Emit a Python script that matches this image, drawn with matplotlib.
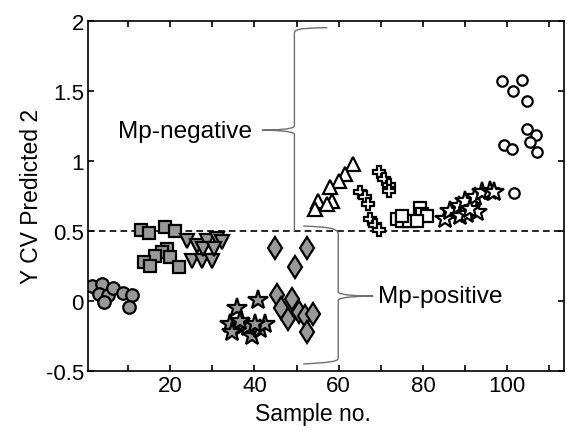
import numpy as np
import matplotlib
matplotlib.use("Agg")
import matplotlib.pyplot as plt
from matplotlib.path import Path
from matplotlib.patches import PathPatch

plt.rcParams['font.family'] = ['Liberation Sans', 'DejaVu Sans']

# --- data (sample no., Y CV predicted) ---
circ_g_x = [1.4, 3.9, 3.1, 5.3, 4.2, 6.5, 8.7, 11.0, 10.3]
circ_g_y = [0.105, 0.121, 0.05, 0.043, -0.005, 0.09, 0.055, 0.045, -0.045]

sq_g_x = [13.1, 15.0, 18.8, 21.2, 19.2, 18.0, 16.4, 20.0, 13.7, 15.2, 22.0]
sq_g_y = [0.507, 0.484, 0.531, 0.502, 0.371, 0.348, 0.324, 0.312, 0.276, 0.252, 0.245]

tri_d_x = [24.0, 26.3, 28.7, 31.1, 32.3, 25.2, 27.5, 29.9, 27.9, 30.3]
tri_d_y = [0.431, 0.395, 0.431, 0.443, 0.419, 0.288, 0.288, 0.288, 0.371, 0.371]

star_g_x = [35.8, 40.8, 34.3, 37.4, 34.7, 39.4, 38.6, 41.4, 42.6, 36.6, 40.2]
star_g_y = [-0.052, 0.009, -0.164, -0.176, -0.224, -0.248, -0.188, -0.2, -0.164, -0.143, -0.164]

dia_g_x = [44.9, 52.6, 49.7, 45.3, 48.9, 46.3, 47.9, 50.7, 52.1, 54.0, 52.5]
dia_g_y = [0.376, 0.376, 0.24, 0.043, 0.014, -0.052, -0.129, -0.076, -0.105, -0.093, -0.224]

tri_u_x = [63.5, 61.6, 60.0, 58.0, 55.2, 58.4, 57.2, 54.4]
tri_u_y = [0.979, 0.907, 0.859, 0.812, 0.716, 0.716, 0.693, 0.657]

plus_w_x = [69.6, 70.8, 72.0, 71.9, 65.1, 66.3, 66.9, 67.5, 68.7, 69.5]
plus_w_y = [0.919, 0.871, 0.825, 0.784, 0.781, 0.741, 0.693, 0.586, 0.546, 0.507]

sq_w_x = [73.8, 75.0, 76.6, 79.4, 79.8, 81.0, 78.6, 75.0]
sq_w_y = [0.586, 0.574, 0.574, 0.662, 0.621, 0.609, 0.574, 0.609]

star_w_x = [85.3, 86.5, 88.5, 88.9, 90.1, 90.5, 92.4, 92.8, 94.0, 96.0, 96.8, 91.3]
star_w_y = [0.586, 0.645, 0.681, 0.609, 0.716, 0.621, 0.741, 0.634, 0.776, 0.788, 0.776, 0.657]

circ_w_x = [98.8, 103.5, 101.5, 104.7, 104.6, 106.9, 99.3, 101.1, 105.5, 107.2, 101.7]
circ_w_y = [1.574, 1.581, 1.498, 1.431, 1.229, 1.186, 1.114, 1.086, 1.134, 1.066, 0.771]

threshold = 0.5

fig = plt.figure(figsize=(5.67, 4.31), dpi=100)
ax = fig.add_axes([0.1552, 0.1369, 0.8395, 0.8121])

gray = '#999999'
kw = dict(linestyle='none', markeredgecolor='black', markeredgewidth=1.6)
ax.plot(circ_g_x, circ_g_y, 'o', markersize=9, markerfacecolor=gray, **kw)
ax.plot(sq_g_x, sq_g_y, 's', markersize=8.5, markerfacecolor=gray, **kw)
ax.plot(tri_d_x, tri_d_y, 'v', markersize=10.5, markerfacecolor=gray, **kw)
ax.plot(star_g_x, star_g_y, '*', markersize=15, markerfacecolor=gray, **kw)
ax.plot(dia_g_x, dia_g_y, 'd', markersize=11.5, markerfacecolor=gray, **kw)
ax.plot(tri_u_x, tri_u_y, '^', markersize=10.5, markerfacecolor='white', **kw)
ax.plot(plus_w_x, plus_w_y, 'P', markersize=8, markerfacecolor='white', **kw)
ax.plot(sq_w_x, sq_w_y, 's', markersize=9, markerfacecolor='white', **kw)
ax.plot(star_w_x, star_w_y, '*', markersize=15, markerfacecolor='white', **kw)
ax.plot(circ_w_x, circ_w_y, 'o', markersize=7.5, markerfacecolor='white', **kw)

ax.axhline(threshold, color='black', linestyle=(0, (4, 2.5)), linewidth=1.2, zorder=1)


def brace(ax, x, y0, y1, tip_x, hook):
    """vertical curly brace at x from y0 to y1; tip points to tip_x, top end hooks by `hook` in x"""
    ym = (y0 + y1) / 2
    dy = 0.03
    verts = [
        (x + hook, y1 + 0.012), (x + 0.3, y1 + 0.01), (x, y1 - 0.005), (x, y1 - dy),
        (x, ym + dy),
        (x, ym + 0.005), (tip_x + (x - tip_x) * 0.3, ym), (tip_x, ym),
        (tip_x + (x - tip_x) * 0.3, ym), (x, ym - 0.005), (x, ym - dy),
        (x, y0),
    ]
    codes = [Path.MOVETO, Path.CURVE4, Path.CURVE4, Path.CURVE4,
             Path.LINETO,
             Path.CURVE4, Path.CURVE4, Path.CURVE4,
             Path.CURVE4, Path.CURVE4, Path.CURVE4,
             Path.LINETO]
    ax.add_patch(PathPatch(Path(verts, codes), fill=False, edgecolor='#6e6e6e', linewidth=1.0))


# Mp-negative brace (above threshold)
brace(ax, 49.5, threshold, 1.94, 41.9, 7.8)
ax.text(39.5, 1.214, 'Mp-negative', ha='right', va='center', fontsize=17.6)

# Mp-positive brace (below threshold), opening to the left
x2, top2, bot2, tip2 = 59.9, 0.50, -0.43, 68.2
ym2 = (top2 + bot2) / 2
verts2 = [
    (51.6, 0.535), (57.0, 0.53), (x2, 0.52), (x2, top2 - 0.02),
    (x2, ym2 + 0.03),
    (x2, ym2 + 0.005), (tip2 - (tip2 - x2) * 0.3, ym2), (tip2, ym2),
    (tip2 - (tip2 - x2) * 0.3, ym2), (x2, ym2 - 0.005), (x2, ym2 - 0.03),
    (x2, bot2 + 0.02),
    (x2, bot2 - 0.005), (57.0, -0.44), (51.6, -0.45),
]
codes2 = [Path.MOVETO, Path.CURVE4, Path.CURVE4, Path.CURVE4,
          Path.LINETO,
          Path.CURVE4, Path.CURVE4, Path.CURVE4,
          Path.CURVE4, Path.CURVE4, Path.CURVE4,
          Path.LINETO,
          Path.CURVE4, Path.CURVE4, Path.CURVE4]
ax.add_patch(PathPatch(Path(verts2, codes2), fill=False, edgecolor='#6e6e6e', linewidth=1.0))
ax.text(69.3, ym2, 'Mp-positive', ha='left', va='center', fontsize=17.6)

ax.set_xlim(0.5, 113.5)
ax.set_ylim(-0.5, 2)
ax.set_xticks(np.arange(10, 111, 10))
ax.set_xticklabels(['' if t % 20 else str(t) for t in range(10, 111, 10)])
ax.set_yticks([-0.5, 0, 0.5, 1, 1.5, 2])
ax.set_yticklabels(['-0.5', '0', '0.5', '1', '1.5', '2'])
ax.tick_params(direction='in', length=4, width=1.2, labelsize=16, top=True, right=True, pad=3)
for s in ax.spines.values():
    s.set_linewidth(1.2)

ax.set_xlabel('Sample no.', fontsize=16.5)
ax.xaxis.set_label_coords(0.473, -0.09)
ax.set_ylabel('Y CV Predicted 2', fontsize=16.5)
ax.yaxis.set_label_coords(-0.095, 0.5)

fig.savefig('out.png', dpi=100)
